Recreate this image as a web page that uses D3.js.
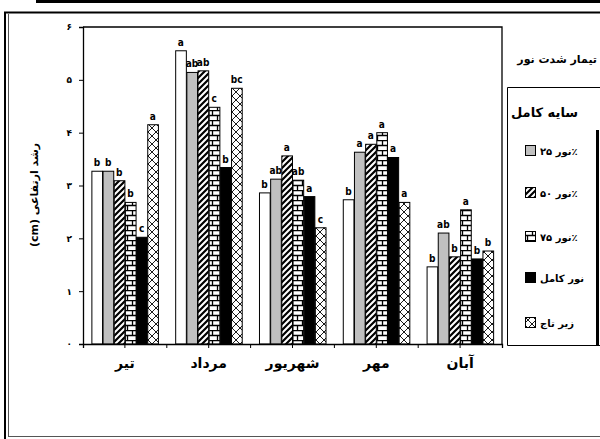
<!DOCTYPE html>
<html><head><meta charset="utf-8">
<script src="https://cdn.jsdelivr.net/npm/d3@7/dist/d3.min.js"></script>
<style>body{margin:0;background:#fff}svg{display:block}</style>
</head><body>
<script>
const months = ["تیر","مرداد","شهریور","مهر","آبان"];
const seriesNames = ["سایه کامل","نور ۲۵٪","نور ۵۰٪","نور ۷۵٪","نور کامل","زیر تاج"];
const s1 = [3.27,5.55,2.86,2.73,1.46];
const s2 = [3.27,5.14,3.12,3.63,2.10];
const s3 = [3.09,5.17,3.56,3.78,1.65];
const s4 = [2.68,4.48,3.10,4.00,2.54];
const s5 = [2.02,3.34,2.79,3.53,1.61];
const s6 = [4.15,4.84,2.20,2.68,1.76];
const l1 = ["b","a","b","b","b"];
const l2 = ["b","ab","ab","a","ab"];
const l3 = ["b","ab","a","a","b"];
const l4 = ["b","c","ab","a","a"];
const l5 = ["c","b","a","a","b"];
const l6 = ["a","bc","c","a","b"];
const yTicks = [0,1,2,3,4,5,6];
const yTickLabels = ["۰","۱","۲","۳","۴","۵","۶"];
const yLabel = "رشد ارتفاعی (cm)";
const legendTitle = "تیمار شدت نور";

const values = [s1,s2,s3,s4,s5,s6];
const letters = [l1,l2,l3,l4,l5,l6];
const fills = ["#fff","#c0c0c0","url(#diag)","url(#brick)","#000","url(#cross)"];

const W=600,H=439;
const svg = d3.select("body").append("svg").attr("width",W).attr("height",H);
const defs = svg.append("defs");
const pd = defs.append("pattern").attr("id","diag").attr("patternUnits","userSpaceOnUse").attr("width",6).attr("height",6);
pd.append("rect").attr("width",6).attr("height",6).attr("fill","#fff");
pd.append("path").attr("d","M-1,7 L7,-1 M-4,4 L4,-4 M2,10 L10,2").attr("stroke","#000").attr("stroke-width",2.2);
const pb = defs.append("pattern").attr("id","brick").attr("patternUnits","userSpaceOnUse").attr("width",10).attr("height",10);
pb.append("rect").attr("width",10).attr("height",10).attr("fill","#fff");
pb.append("path").attr("d","M0,0.5H10 M0,5.5H10 M2.5,0V5 M7.5,5V10").attr("stroke","#000").attr("stroke-width",1.3);
const pc = defs.append("pattern").attr("id","cross").attr("patternUnits","userSpaceOnUse").attr("width",8).attr("height",8);
pc.append("rect").attr("width",8).attr("height",8).attr("fill","#fff");
pc.append("path").attr("d","M0,0L8,8 M8,0L0,8").attr("stroke","#000").attr("stroke-width",0.9);

svg.append("rect").attr("x",36).attr("y",0).attr("width",564).attr("height",3).attr("fill","#000");
svg.append("line").attr("x1",4).attr("x2",600).attr("y1",12.5).attr("y2",12.5).attr("stroke","#000").attr("stroke-width",2);
svg.append("line").attr("x1",5).attr("x2",5).attr("y1",12).attr("y2",439).attr("stroke","#000").attr("stroke-width",2);
svg.append("line").attr("x1",8.5).attr("x2",8.5).attr("y1",14).attr("y2",436).attr("stroke","#555").attr("stroke-width",1);
svg.append("line").attr("x1",8).attr("x2",600).attr("y1",436.5).attr("y2",436.5).attr("stroke","#555").attr("stroke-width",1);

const pL=83,pR=502,pT=27,pB=344;
const x = d3.scaleBand().domain(months).range([pL,pR]).paddingInner(0.2).paddingOuter(0.1);
const xs = d3.scaleBand().domain(d3.range(6)).range([0,x.bandwidth()]);
const y = d3.scaleLinear().domain([0,6]).range([pB,pT]);

svg.append("path").attr("d",`M${pL},${pT}H${pR}V${pB}`).attr("fill","none").attr("stroke","#000").attr("stroke-width",1.3);

const g = svg.append("g");
months.forEach((m,i)=>{
  values.forEach((s,k)=>{
    const bx = x(m)+xs(k);
    g.append("rect").attr("x",bx+0.5).attr("y",y(s[i])).attr("width",xs.bandwidth()-0.5).attr("height",y(0)-y(s[i]))
      .attr("fill",fills[k]).attr("stroke","#000").attr("stroke-width",1);
    g.append("text").attr("x",bx+xs.bandwidth()/2).attr("y",y(s[i])-5).attr("text-anchor","middle")
      .attr("font-family","Liberation Sans Narrow, DejaVu Sans Condensed").attr("font-weight","bold").attr("font-size",10).text(letters[k][i]);
  });
});

const ya = svg.append("g").attr("transform",`translate(${pL},0)`)
  .call(d3.axisLeft(y).tickValues(yTicks).tickSize(4).tickFormat((d,i)=>yTickLabels[i]));
ya.select(".domain").attr("stroke-width",1.3);
ya.selectAll("text").attr("font-family","DejaVu Sans").attr("font-weight","bold").attr("font-size",9).attr("dx",-4);

const xa = svg.append("g").attr("transform",`translate(0,${pB})`)
  .call(d3.axisBottom(x).tickSize(4).tickPadding(10));
xa.select(".domain").attr("stroke-width",1.3);
xa.selectAll("text").attr("font-family","DejaVu Sans").attr("font-weight","bold").attr("font-size",14);
const bnd = months.slice(1).map(m=>x(m)-x.step()*x.paddingInner()/2);
xa.selectAll(".bt").data(bnd).enter().append("line").attr("x1",d=>d).attr("x2",d=>d).attr("y1",0).attr("y2",4).attr("stroke","#000");

svg.append("text").attr("transform","translate(38,195) rotate(-90)").attr("text-anchor","middle")
  .attr("font-family","DejaVu Sans").attr("font-weight","bold").attr("font-size",11).attr("direction","rtl").text(yLabel);

svg.append("text").attr("x",597).attr("y",63).attr("text-anchor","end")
  .attr("font-family","DejaVu Sans").attr("font-weight","bold").attr("font-size",11).text(legendTitle);
svg.append("path").attr("d","M600,87.5H507.5V345.5H600").attr("fill","none").attr("stroke","#000").attr("stroke-width",1);
svg.append("line").attr("x1",597.5).attr("x2",597.5).attr("y1",130).attr("y2",345).attr("stroke","#000").attr("stroke-width",3);
svg.append("text").attr("x",511).attr("y",117).attr("font-family","DejaVu Sans").attr("font-weight","bold").attr("font-size",13)
  .attr("text-anchor","start").text(seriesNames[0]);
const ly = [151,193,237,278,323];
seriesNames.slice(1).forEach((n,i)=>{
  svg.append("rect").attr("x",525.5).attr("y",ly[i]-5.5).attr("width",10).attr("height",10).attr("fill",fills[i+1]).attr("stroke","#000");
  svg.append("text").attr("x",540).attr("y",ly[i]+4).attr("font-family","DejaVu Sans").attr("font-weight","bold").attr("font-size",10)
    .attr("text-anchor","start").text(n);
});
</script>
</body></html>
